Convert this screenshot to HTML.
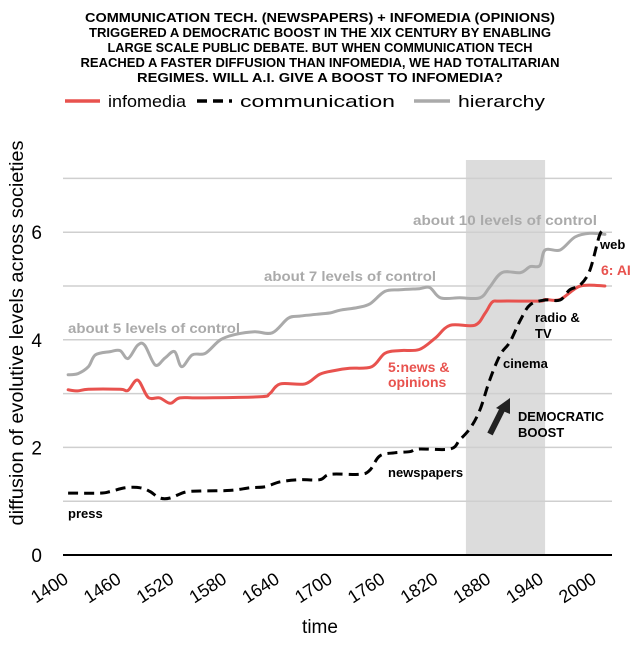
<!DOCTYPE html>
<html><head><meta charset="utf-8"><style>
body{margin:0;background:#fff}
svg{font-family:"Liberation Sans",sans-serif}
</style></head><body>
<svg id="chart" width="641" height="641" viewBox="0 0 641 641">
<g font-weight="bold" font-size="13" text-anchor="middle" fill="#000">
<text x="320" y="22" textLength="470" lengthAdjust="spacingAndGlyphs">COMMUNICATION TECH. (NEWSPAPERS) + INFOMEDIA (OPINIONS)</text>
<text x="320" y="37" textLength="462" lengthAdjust="spacingAndGlyphs">TRIGGERED A DEMOCRATIC BOOST IN THE XIX CENTURY BY ENABLING</text>
<text x="320" y="52" textLength="425" lengthAdjust="spacingAndGlyphs">LARGE SCALE PUBLIC DEBATE. BUT WHEN COMMUNICATION TECH</text>
<text x="320" y="67" textLength="479" lengthAdjust="spacingAndGlyphs">REACHED A FASTER DIFFUSION THAN INFOMEDIA, WE HAD TOTALITARIAN</text>
<text x="320" y="82" textLength="366" lengthAdjust="spacingAndGlyphs">REGIMES. WILL A.I. GIVE A BOOST TO INFOMEDIA?</text>
</g>
<g font-size="17">
<g><line x1="65" y1="101" x2="100" y2="101" stroke="#e8524e" stroke-width="3.5"/><text x="108" y="107" textLength="78" lengthAdjust="spacingAndGlyphs">infomedia</text></g>
<g><line x1="197" y1="101" x2="232" y2="101" stroke="#000" stroke-width="3.5" stroke-dasharray="10,6"/><text x="240" y="107" textLength="155" lengthAdjust="spacingAndGlyphs">communication</text></g>
<g><line x1="414" y1="101" x2="450" y2="101" stroke="#aaa" stroke-width="3.5"/><text x="458" y="107" textLength="87" lengthAdjust="spacingAndGlyphs">hierarchy</text></g>
</g>
<g id="plot"></g>
<text transform="translate(23,333) rotate(-90)" text-anchor="middle" font-size="19" textLength="385" lengthAdjust="spacingAndGlyphs">diffusion of evolutive levels across societies</text>
<text x="320" y="633" text-anchor="middle" font-size="19">time</text>
<g font-weight="bold" font-size="13">
<text x="68" y="333" fill="#aaa" font-size="14" textLength="172" lengthAdjust="spacingAndGlyphs">about 5 levels of control</text>
<text x="264" y="281" fill="#aaa" font-size="14" textLength="172" lengthAdjust="spacingAndGlyphs">about 7 levels of control</text>
<text x="413" y="225" fill="#aaa" font-size="14" textLength="184" lengthAdjust="spacingAndGlyphs">about 10 levels of control</text>
<text x="600" y="249" fill="#000">web</text>
<text x="601" y="275" fill="#e8524e" font-size="14">6: AI</text>
<text x="535" y="322">radio &amp;</text><text x="535" y="338">TV</text>
<text x="503" y="368">cinema</text>
<text x="388" y="372" fill="#e8524e" font-size="14">5:news &amp;</text>
<text x="388" y="387" fill="#e8524e" font-size="14">opinions</text>
<text x="518" y="421" textLength="86" lengthAdjust="spacingAndGlyphs">DEMOCRATIC</text><text x="518" y="437">BOOST</text>
<text x="388" y="477">newspapers</text>
<text x="68" y="518">press</text>
<line x1="490" y1="434" x2="503" y2="408" stroke="#222" stroke-width="6"/>
<polygon points="496,408 510,398 510,414" fill="#222"/>
</g>
</svg>
<script>
const xTicks=[1400,1460,1520,1580,1640,1700,1760,1820,1880,1940,2000];
const yTicks=[0,2,4,6];
const gridValues=[1,2,3,4,5,6,7];
const band=[1855,1945];
const hierYears=[1403,1414,1426,1434,1451,1462,1471,1482,1490,1502,1513,1524,1532,1544,1559,1576,1593,1615,1635,1653,1666,1689,1701,1712,1732,1746,1763,1780,1802,1814,1826,1848,1871,1882,1896,1917,1928,1939,1945,1962,1979,1996,2013];
const hierVals=[3.35,3.37,3.5,3.72,3.78,3.8,3.65,3.9,3.9,3.53,3.66,3.78,3.5,3.72,3.75,4.0,4.1,4.15,4.13,4.4,4.44,4.48,4.5,4.55,4.6,4.67,4.9,4.93,4.95,4.97,4.78,4.78,4.78,4.98,5.25,5.25,5.36,5.38,5.67,5.67,5.91,5.98,5.96];
const infoYears=[1403,1414,1426,1462,1471,1482,1494,1507,1519,1530,1553,1621,1632,1644,1672,1689,1706,1723,1748,1763,1780,1802,1820,1837,1865,1877,1885,1894,1939,1945,1962,1985,2013];
const infoVals=[3.07,3.05,3.08,3.08,3.06,3.25,2.93,2.92,2.82,2.92,2.92,2.94,3.0,3.18,3.18,3.36,3.43,3.47,3.5,3.75,3.8,3.82,4.03,4.27,4.27,4.5,4.7,4.72,4.72,4.75,4.75,5.0,5.0];
const commYears=[1403,1439,1451,1468,1485,1496,1507,1519,1536,1553,1587,1610,1627,1644,1666,1689,1701,1735,1746,1757,1774,1791,1802,1837,1848,1860,1871,1882,1894,1905,1917,1928,1945,1962,1973,1985,1996,2007,2012];
const commVals=[1.15,1.15,1.18,1.25,1.25,1.18,1.06,1.06,1.17,1.19,1.2,1.25,1.27,1.36,1.4,1.4,1.5,1.5,1.58,1.84,1.9,1.92,1.97,1.97,2.14,2.36,2.7,3.25,3.72,3.96,4.37,4.65,4.74,4.74,4.93,5.02,5.3,5.95,6.02];
const X=y=>65.5+(y-1400)*0.88;
const Y=v=>555-53.8*v;
const NS='http://www.w3.org/2000/svg';
const plot=document.getElementById('plot');
function mk(t,a){const e=document.createElementNS(NS,t);for(const k in a)e.setAttribute(k,a[k]);plot.appendChild(e);return e;}
const b=mk('rect',{x:X(band[0]),y:160,width:X(band[1])-X(band[0]),height:Y(0)-160,fill:'#dcdcdc'});


gridValues.forEach(v=>{const g=mk('line',{x1:63,x2:612,y1:Y(v),y2:Y(v),stroke:'#cfcfcf','stroke-width':1.5});

});
const ax=mk('line',{x1:63,x2:612,y1:Y(0),y2:Y(0),stroke:'#000','stroke-width':2});


yTicks.forEach(v=>{const t=mk('text',{x:42,y:Y(v)+7,'text-anchor':'end','font-size':19});t.textContent=v;

});
xTicks.forEach(v=>{const x=X(v)+4,y=582;const t=mk('text',{x:x,y:y,'text-anchor':'end','font-size':18,transform:`rotate(-33 ${x} ${y})`});t.textContent=v;

});
function line(ys,vs,st,name){
const P=ys.map((y,i)=>[X(y),Y(vs[i])]);
let d='M'+P[0][0].toFixed(1)+','+P[0][1].toFixed(1);
for(let i=0;i<P.length-1;i++){const p0=P[Math.max(0,i-1)],p1=P[i],p2=P[i+1],p3=P[Math.min(P.length-1,i+2)];const k=1/6;
d+='C'+(p1[0]+(p2[0]-p0[0])*k).toFixed(1)+','+(p1[1]+(p2[1]-p0[1])*k).toFixed(1)+' '+(p2[0]-(p3[0]-p1[0])*k).toFixed(1)+','+(p2[1]-(p3[1]-p1[1])*k).toFixed(1)+' '+p2[0].toFixed(1)+','+p2[1].toFixed(1);}
const p=mk('path',Object.assign({d:d,fill:'none','stroke-width':3,'stroke-linejoin':'round','stroke-linecap':'round'},st));

}
line(hierYears,hierVals,{stroke:'#aaa'},'hierarchy-line');
line(infoYears,infoVals,{stroke:'#e8524e'},'infomedia-line');
line(commYears,commVals,{stroke:'#000','stroke-dasharray':'10,6','stroke-linecap':'butt'},'communication-line');
</script>
</body></html>
